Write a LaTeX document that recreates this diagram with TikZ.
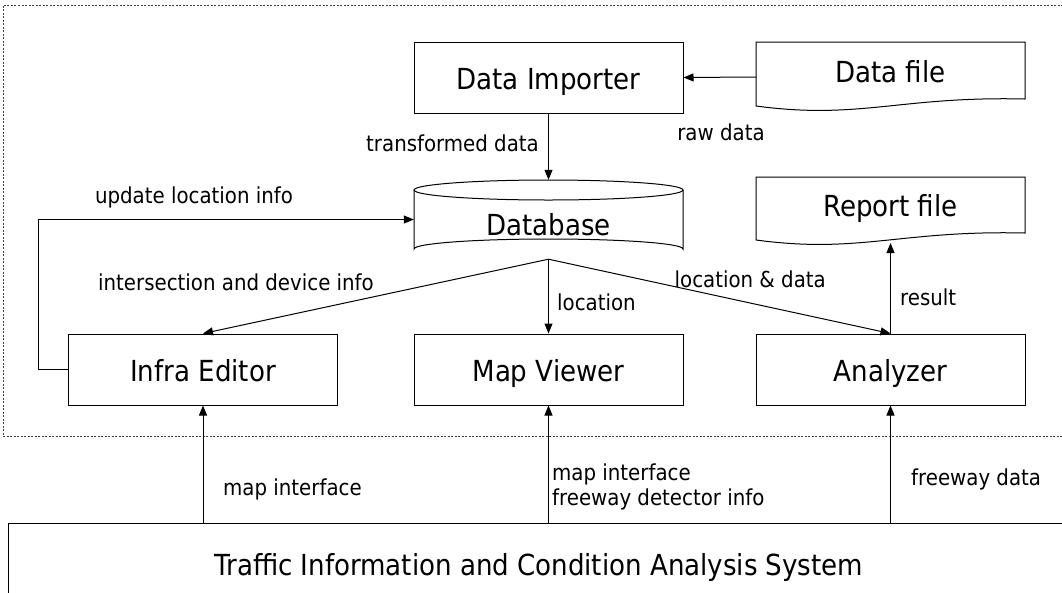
\documentclass[tikz,border=0pt]{standalone}
\usepackage{fontspec}
\setmainfont{DejaVu Sans Condensed}
\usetikzlibrary{arrows.meta}
\begin{document}
\begin{tikzpicture}[x=1pt,y=-1pt,
  box/.style={draw,line width=1pt,minimum width=269pt,minimum height=71pt,inner sep=0pt,text height=24pt,text depth=0pt,font=\fontsize{29}{32}\selectfont},
  big/.style={inner sep=0pt,font=\fontsize{29}{32}\selectfont},
  lbl/.style={inner sep=0pt,font=\fontsize{22}{25}\selectfont},
  arr/.style={line width=1pt,-{Triangle[length=10pt,width=8pt]}},
  frame/.style={line width=0.8pt,dash pattern=on 2pt off 1.5pt,draw=black!75}]
\useasboundingbox (0,0) rectangle (1062,592);
\draw[frame] (1070,5) -- (3,5) -- (3,436) -- (1070,436);
% nodes
\node[box] (imp) at (548.5,77.5) {Data Importer};
\node[box] (ie) at (203,369.5) {Infra Editor};
\node[box] (mv) at (548.5,369.5) {Map Viewer};
\node[box] (an) at (890.5,369.5) {Analyzer};
\node[draw,line width=1pt,minimum width=1062pt,minimum height=84pt,inner sep=0pt] (tic) at (539,565) {};
\node[big,anchor=base] at (539,575) {Traffic Information and Condition Analysis System};
% documents
\draw[line width=1pt] (756,42) -- (1025,42) -- (1025,99) .. controls (900,96) and (860,120) .. (756,106) -- cycle;
\node[big,anchor=base] (df) at (890.5,82) {Data file};
\coordinate (dfin) at (756,77);
\draw[line width=1pt] (756,177) -- (1025,177) -- (1025,233) .. controls (900,230) and (860,254) .. (756,240) -- cycle;
\node[big,anchor=base] (rf) at (890.5,216) {Report file};
\coordinate (rfb) at (890.5,243);
% database
\draw[line width=1pt,fill=white] (414,190) -- (414,249) arc[start angle=180,end angle=360,x radius=134.5,y radius=10] -- (683,190);
\draw[line width=1pt] (548.5,190) ellipse[x radius=134.5,y radius=10];
\node[minimum width=269pt,minimum height=79pt,inner sep=0pt] (db) at (548.5,219.5) {};
\node[big,anchor=base] at (548.5,235) {Database};
% connectors
\draw[arr] (dfin) -- (imp.east);
\draw[arr] (imp.south) -- (db.north);
\draw[arr] (ie.west) -- (38,369.5) |- (db.west);
\draw[arr] (db.south) -- (ie.north);
\draw[arr] (db.south) -- (mv.north);
\draw[arr] (db.south) -- (an.north);
\draw[arr] (an.north) -- (rfb);
\draw[arr] (tic.north -| ie.south) -- (ie.south);
\draw[arr] (tic.north -| mv.south) -- (mv.south);
\draw[arr] (tic.north -| an.south) -- (an.south);
% labels
\node[lbl,anchor=base east] at (539,151) {transformed data};
\node[lbl,anchor=base] at (721,140) {raw data};
\node[lbl,anchor=base] at (194,203) {update location info};
\node[lbl,anchor=base] at (236,290) {intersection and device info};
\node[lbl,anchor=base west] at (557,310) {location};
\node[lbl,anchor=base east] at (826,287) {location \& data};
\node[lbl,anchor=base west] at (900,305) {result};
\node[lbl,anchor=base west] at (223,495) {map interface};
\node[lbl,anchor=base west] at (552,480) {map interface};
\node[lbl,anchor=base west] at (552,505) {freeway detector info};
\node[lbl,anchor=base west] at (911,485) {freeway data};
\end{tikzpicture}
\end{document}
